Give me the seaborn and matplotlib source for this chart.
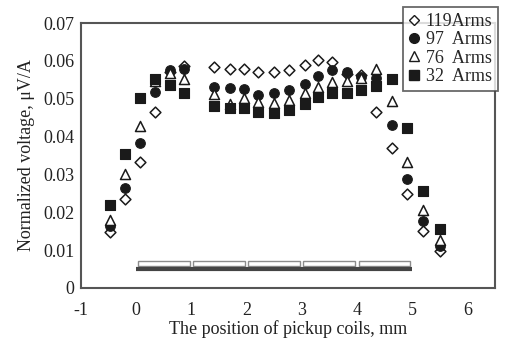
import matplotlib
matplotlib.use("Agg")
import matplotlib.pyplot as plt
from matplotlib.patches import Rectangle
from matplotlib.lines import Line2D
import seaborn as sns
import pandas as pd

# ---- data ----
positions = [-0.47, -0.2, 0.07, 0.34, 0.61, 0.87, 1.4, 1.69, 1.96, 2.2, 2.49,
             2.76, 3.05, 3.3, 3.55, 3.82, 4.08, 4.34, 4.63, 4.9, 5.19, 5.5]
v119 = [0.0147, 0.0235, 0.0334, 0.0466, 0.0572, 0.0586, 0.0583, 0.0580, 0.0578,
        0.0570, 0.0570, 0.0576, 0.0590, 0.0602, 0.0598, 0.0566, 0.0562, 0.0466,
        0.0370, 0.0248, 0.0150, 0.0097]
v97 = [0.0165, 0.0264, 0.0384, 0.0518, 0.0575, 0.0578, 0.0532, 0.0529, 0.0526,
       0.0510, 0.0514, 0.0523, 0.0540, 0.0560, 0.0576, 0.0570, 0.0558, 0.0555,
       0.0432, 0.0289, 0.0176, 0.0112]
v76 = [0.0180, 0.0300, 0.0429, 0.0548, 0.0567, 0.0553, 0.0512, 0.0485, 0.0501,
       0.0492, 0.0490, 0.0497, 0.0514, 0.0530, 0.0545, 0.0548, 0.0555, 0.0580,
       0.0495, 0.0332, 0.0205, 0.0128]
v32 = [0.0220, 0.0355, 0.0501, 0.0551, 0.0537, 0.0516, 0.0482, 0.0476, 0.0475,
       0.0466, 0.0462, 0.0470, 0.0485, 0.0505, 0.0514, 0.0514, 0.0522, 0.0535,
       0.0553, 0.0423, 0.0256, 0.0157]
series_labels = ["119Arms", "97  Arms", "76  Arms", "32  Arms"]
coil_starts = [0, 1, 2, 3, 4]
x_ticks = [-1, 0, 1, 2, 3, 4, 5, 6]
y_ticks = [0, 0.01, 0.02, 0.03, 0.04, 0.05, 0.06, 0.07]
y_tick_labels = ["0", "0.01", "0.02", "0.03", "0.04", "0.05", "0.06", "0.07"]

sns.set_theme(style="white")
plt.rcParams['font.family'] = ['Liberation Serif', 'DejaVu Serif']

fig = plt.figure(figsize=(5.07, 3.40), dpi=100)
ax = fig.add_axes([0.160, 0.153, 0.816, 0.779])

ink = "#1a1a1a"
styles = [
    dict(marker="D", s=30, facecolor="white", edgecolor=ink, linewidth=1.1),
    dict(marker="o", s=48, facecolor=ink, edgecolor=ink, linewidth=0.8),
    dict(marker="^", s=52, facecolor="white", edgecolor=ink, linewidth=1.1),
    dict(marker="s", s=50, facecolor=ink, edgecolor=ink, linewidth=0.8),
]
for vals, lab, st in zip([v119, v97, v76, v32], series_labels, styles):
    df = pd.DataFrame({"x": positions, "y": vals})
    sns.scatterplot(data=df, x="x", y="y", ax=ax, legend=False, zorder=3, **st)

# coils and the dark bar beneath them
for c in coil_starts:
    ax.add_patch(Rectangle((c + 0.03, 0.0057), 0.94, 0.0014, facecolor="white",
                           edgecolor="#8c8c8c", linewidth=1.0, zorder=2))
ax.hlines(0.0050, coil_starts[0], coil_starts[-1] + 1, colors="#444444",
          linewidth=3.0, zorder=2)

ax.set_xlim(-1, 6.5)
ax.set_ylim(0, 0.07)
ax.set_xticks(x_ticks)
ax.set_xticklabels([str(t) for t in x_ticks])
ax.set_yticks(y_ticks)
ax.set_yticklabels(y_tick_labels)
ax.tick_params(direction="in", length=4, width=1.0, colors="#333333",
               labelcolor="#222222", labelsize=13, pad=5)
ax.tick_params(axis="x", pad=10)
for sp in ax.spines.values():
    sp.set_color("#555555")
    sp.set_linewidth(1.5)

ax.set_xlabel("The position of pickup coils, mm", fontsize=13, color="#222222",
              labelpad=1)
ax.set_ylabel("Normalized voltage, μV/A", fontsize=13, color="#222222",
              labelpad=6)

handles = []
for lab, st in zip(series_labels, styles):
    handles.append(Line2D([], [], linestyle="none", marker=st["marker"],
                          markerfacecolor=st["facecolor"], markeredgecolor=ink,
                          markersize=7 if st["marker"] != "D" else 5.5,
                          markeredgewidth=1.0, label=lab))
leg = fig.legend(handles=handles, loc="upper right",
                 bbox_to_anchor=(0.982, 0.978), frameon=True, fancybox=False,
                 fontsize=13, handlelength=0.6, handletextpad=0.35,
                 borderpad=0.3, labelspacing=0.08, borderaxespad=0.0)
leg.get_frame().set_edgecolor("#444444")
leg.get_frame().set_linewidth(1.3)
leg.get_frame().set_facecolor("white")
leg.set_zorder(10)

fig.savefig("out.png", dpi=100)
